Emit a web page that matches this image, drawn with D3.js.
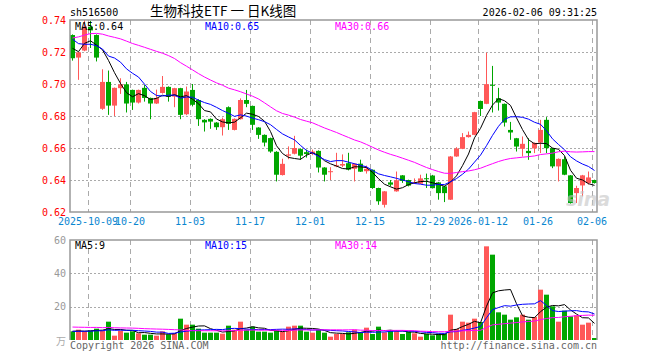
<!DOCTYPE html>
<html>
<head>
<meta charset="utf-8">
<script src="https://cdn.jsdelivr.net/npm/d3@7"></script>
<style>
body { margin: 0; background: #fff; }
svg text { font-family: "DejaVu Sans Mono", monospace; font-size: 10px; }
</style>
</head>
<body>
<div id="chart"></div>
<script>
// trading days shown (categories)
const dates = [
  "2025-09-26","2025-09-29","2025-09-30","2025-10-09","2025-10-10","2025-10-13","2025-10-14","2025-10-15","2025-10-16","2025-10-17",
  "2025-10-20","2025-10-21","2025-10-22","2025-10-23","2025-10-24","2025-10-27","2025-10-28","2025-10-29","2025-10-30","2025-10-31",
  "2025-11-03","2025-11-04","2025-11-05","2025-11-06","2025-11-07","2025-11-10","2025-11-11","2025-11-12","2025-11-13","2025-11-14",
  "2025-11-17","2025-11-18","2025-11-19","2025-11-20","2025-11-21","2025-11-24","2025-11-25","2025-11-26","2025-11-27","2025-11-28",
  "2025-12-01","2025-12-02","2025-12-03","2025-12-04","2025-12-05","2025-12-08","2025-12-09","2025-12-10","2025-12-11","2025-12-12",
  "2025-12-15","2025-12-16","2025-12-17","2025-12-18","2025-12-19","2025-12-22","2025-12-23","2025-12-24","2025-12-25","2025-12-26",
  "2025-12-29","2025-12-30","2025-12-31","2026-01-05","2026-01-06","2026-01-07","2026-01-08","2026-01-09",
  "2026-01-12","2026-01-13","2026-01-14","2026-01-15","2026-01-16","2026-01-19","2026-01-20","2026-01-21","2026-01-22","2026-01-23",
  "2026-01-26","2026-01-27","2026-01-28","2026-01-29","2026-01-30","2026-02-02","2026-02-03","2026-02-04","2026-02-05","2026-02-06"
]

const open = [0.7306,0.7165,0.7209,0.7358,0.7306,0.6845,0.7013,0.6865,0.6974,0.6998,
  0.6963,0.6884,0.6976,0.6913,0.6878,0.6944,0.6982,0.6921,0.6974,0.6811,
  0.6963,0.6900,0.6776,0.6782,0.6759,0.6730,0.6855,0.6713,0.6780,0.6900,
  0.6863,0.6728,0.6682,0.6662,0.6576,0.6431,0.6552,0.6564,0.6593,0.6574,
  0.6564,0.6582,0.6478,0.6450,0.6485,0.6490,0.6505,0.6470,0.6502,0.6455,
  0.6464,0.6350,0.6245,0.6385,0.6329,0.6429,0.6400,0.6380,0.6377,0.6411,
  0.6428,0.6385,0.6360,0.6277,0.6547,0.6595,0.6668,0.6682,0.6894,0.6876,
  0.6995,0.6911,0.6876,0.6713,0.6661,0.6595,0.6582,0.6597,0.6634,0.6776,
  0.6599,0.6485,0.6530,0.6429,0.6318,0.6366,0.6381,0.6400]
const high = [0.7310,0.7200,0.7400,0.7395,0.7310,0.7092,0.7084,0.6978,0.7036,0.7013,
  0.6965,0.6965,0.6993,0.6915,0.6965,0.7050,0.6985,0.6976,0.6976,0.6984,
  0.7000,0.6905,0.6780,0.6785,0.6762,0.6790,0.6860,0.6785,0.6910,0.6963,
  0.6865,0.6730,0.6685,0.6665,0.6580,0.6533,0.6610,0.6676,0.6598,0.6590,
  0.6590,0.6585,0.6480,0.6480,0.6570,0.6560,0.6570,0.6505,0.6527,0.6490,
  0.6466,0.6352,0.6331,0.6400,0.6453,0.6431,0.6402,0.6410,0.6433,0.6440,
  0.6432,0.6388,0.6365,0.6550,0.6605,0.6693,0.6703,0.6826,0.6896,0.7196,
  0.7113,0.6976,0.6878,0.6763,0.6663,0.6672,0.6661,0.6635,0.6776,0.6793,
  0.6601,0.6535,0.6547,0.6431,0.6364,0.6432,0.6453,0.6402]
const low = [0.7146,0.7026,0.7205,0.7225,0.7141,0.6838,0.6807,0.6800,0.6938,0.6822,
  0.6838,0.6878,0.6890,0.6780,0.6875,0.6940,0.6890,0.6855,0.6780,0.6805,
  0.6860,0.6738,0.6703,0.6720,0.6713,0.6678,0.6713,0.6710,0.6778,0.6855,
  0.6713,0.6657,0.6610,0.6570,0.6391,0.6428,0.6530,0.6560,0.6526,0.6540,
  0.6555,0.6447,0.6391,0.6400,0.6480,0.6480,0.6460,0.6391,0.6450,0.6440,
  0.6345,0.6245,0.6228,0.6360,0.6327,0.6382,0.6360,0.6375,0.6375,0.6350,
  0.6347,0.6277,0.6262,0.6275,0.6545,0.6593,0.6665,0.6680,0.6800,0.6874,
  0.6822,0.6834,0.6734,0.6651,0.6578,0.6547,0.6526,0.6568,0.6568,0.6568,
  0.6474,0.6391,0.6430,0.6252,0.6256,0.6298,0.6372,0.6378]
const close = [0.7161,0.7198,0.7358,0.7335,0.7165,0.7013,0.6865,0.6976,0.6998,0.6878,
  0.6884,0.6963,0.6913,0.6878,0.6913,0.6982,0.6921,0.6974,0.6807,0.6953,
  0.6870,0.6780,0.6760,0.6765,0.6730,0.6780,0.6751,0.6782,0.6900,0.6876,
  0.6745,0.6682,0.6634,0.6578,0.6433,0.6501,0.6560,0.6600,0.6552,0.6562,
  0.6578,0.6478,0.6433,0.6455,0.6492,0.6500,0.6465,0.6502,0.6452,0.6470,
  0.6350,0.6267,0.6329,0.6371,0.6398,0.6394,0.6365,0.6385,0.6410,0.6405,
  0.6349,0.6318,0.6318,0.6547,0.6597,0.6668,0.6682,0.6824,0.6844,0.6999,
  0.6992,0.6884,0.6759,0.6697,0.6609,0.6626,0.6568,0.6632,0.6713,0.6599,
  0.6485,0.6532,0.6433,0.6256,0.6350,0.6429,0.6416,0.6381]
// volume, 万手
const volume = [5.2,6.2,5.2,5.6,6.8,5.6,11,2.6,5.6,4.4,
  5.2,4,3.2,3.2,2.6,5.2,3.4,4,12.8,9.2,
  9.2,6.8,4.4,4.4,4.4,3.8,8.6,6.2,11,6.2,
  8,5,5,4.4,5.6,5,8,8.6,8.6,5,
  4.4,6.2,4.4,2,3.6,3.6,4.6,6.2,4.6,7.4,
  3.6,8,4.6,5.8,5.2,3.6,5,4,2,3.6,
  2.8,3.8,3.8,15.2,6.6,11,10.4,12.8,10.8,56.2,
  51.2,16.6,15.2,12.2,13.6,15.2,12.2,13.8,30.2,27.2,
  20.2,11,17.6,14.2,14.8,9.2,10.4,1.2]

// sessions before the window (only feed the moving averages)
const priorClose = [0.700,0.702,0.706,0.712,0.716,0.720,0.724,0.728,0.730,0.733,0.731,0.728,0.726,0.729,0.733,0.737,
  0.752,0.758,0.762,0.756,0.748,0.740,0.733,0.726,0.722,0.7303,0.7098,0.7255,0.7298]
const priorVolume = [9,7,8,6,10,7,8,9,6,7,8,9,7,6,8,7,9,18,16,16,6,5,5,4.5,5.5,5,6,4.5,5.3]

const priceTicks = [0.62, 0.64, 0.66, 0.68, 0.70, 0.72, 0.74]
const volTicks = [20, 40, 60]
const tickDates = ["2025-10-09","2025-10-20","2025-11-03","2025-11-17","2025-12-01","2025-12-15","2025-12-29","2026-01-12","2026-01-26","2026-02-06"]
const tickLabels = ["2025-10-09","10-20","11-03","11-17","12-01","12-15","12-29","2026-01-12","01-26","02-06"]

const UP = "#ff5858", DOWN = "#00a600"
const maColors = ["#000000", "#0000ff", "#ff00ff"]
const maDays = [5, 10, 30]

function movingAvg(prior, series, n) {
  let all = prior.concat(series)
  return series.map((_, i) => d3.mean(all.slice(prior.length + i - n + 1, prior.length + i + 1)))
}

var svg = d3.select("#chart").append("svg").attr("width", 660).attr("height", 360)

var x = d3.scaleBand().domain(dates).range([70, 598])
  .paddingInner(1 / 6).paddingOuter(1 / 12).align(0)
var y = d3.scaleLinear().domain([0.62, 0.74]).range([212, 20])
var v = d3.scaleLinear().domain([0, 60]).range([340, 240])
var bw = x.bandwidth()

// title line
svg.append("text").attr("x", 70).attr("y", 16).text("sh516500")
svg.append("text").attr("x", 150).attr("y", 16)
  .style("font-family", "'Noto Sans CJK SC', sans-serif").style("font-size", "13.5px")
  .text("生物科技ETF 一 日K线图")
svg.append("text").attr("x", 597).attr("y", 16).attr("text-anchor", "end").text("2026-02-06 09:31:25")

// grid
var grid = svg.append("g").attr("stroke", "#aaa").attr("fill", "none")
priceTicks.slice(1, -1).forEach(t => {
  grid.append("line").attr("x1", 70).attr("x2", 597)
    .attr("y1", Math.round(y(t)) + 0.5).attr("y2", Math.round(y(t)) + 0.5)
    .attr("stroke-dasharray", "2,2")
})
volTicks.slice(0, -1).forEach(t => {
  grid.append("line").attr("x1", 70).attr("x2", 597)
    .attr("y1", Math.round(v(t)) + 0.5).attr("y2", Math.round(v(t)) + 0.5)
    .attr("stroke-dasharray", "2,2")
})
tickDates.forEach(d => {
  let gx = x(d) + 0.5
  grid.append("line").attr("x1", gx).attr("x2", gx).attr("y1", 20).attr("y2", 212)
    .attr("stroke-dasharray", "5,4")
  grid.append("line").attr("x1", gx).attr("x2", gx).attr("y1", 240).attr("y2", 340)
    .attr("stroke-dasharray", "5,4")
})

// axes
var yAxis = svg.append("g").attr("transform", "translate(70,0)")
  .call(d3.axisLeft(y).tickValues(priceTicks).tickFormat(d3.format(".2f")).tickSize(0).tickPadding(4))
yAxis.select(".domain").remove()
yAxis.selectAll("text").attr("fill", "#f00").style("font-size", "10px").style("font-family", "'DejaVu Sans Mono', monospace")

var vAxis = svg.append("g").attr("transform", "translate(70,0)")
  .call(d3.axisLeft(v).tickValues(volTicks).tickSize(0).tickPadding(4))
vAxis.select(".domain").remove()
vAxis.selectAll("text").attr("fill", "#999").style("font-size", "10px").style("font-family", "'DejaVu Sans Mono', monospace")
svg.append("text").attr("x", 66).attr("y", 345).attr("text-anchor", "end").attr("fill", "#aaa")
  .style("font-family", "'Noto Sans CJK SC', sans-serif").text("万")

var xAxis = svg.append("g").attr("transform", "translate(" + (-bw / 2) + ",212)")
  .call(d3.axisBottom(x).tickValues(tickDates).tickFormat((d, i) => tickLabels[i]).tickSize(0).tickPadding(6))
xAxis.select(".domain").remove()
xAxis.selectAll("text").attr("fill", "#0a86d0").style("font-size", "10px").style("font-family", "'DejaVu Sans Mono', monospace")

// candles
var candles = svg.append("g")
dates.forEach((d, i) => {
  let col = close[i] >= open[i] ? UP : DOWN
  let cx = x(d) + Math.floor(bw / 2) + 0.5
  candles.append("line").attr("x1", cx).attr("x2", cx)
    .attr("y1", y(high[i])).attr("y2", y(low[i])).attr("stroke", col)
  let top = y(Math.max(open[i], close[i])), bot = y(Math.min(open[i], close[i]))
  candles.append("rect").attr("x", x(d)).attr("width", bw)
    .attr("y", top).attr("height", Math.max(1, bot - top)).attr("fill", col)
})

// volume bars
svg.append("g").selectAll("rect").data(volume).enter().append("rect")
  .attr("x", (d, i) => x(dates[i])).attr("width", bw)
  .attr("y", d => v(d)).attr("height", d => v(0) - v(d))
  .attr("fill", (d, i) => close[i] >= open[i] ? UP : DOWN)

// moving averages
svg.append("clipPath").attr("id", "clipP").append("rect").attr("x", 70).attr("y", 20).attr("width", 528).attr("height", 192)
var lineP = d3.line().x((d, i) => x(dates[i]) + bw / 2).y(d => y(d))
var lineV = d3.line().x((d, i) => x(dates[i]) + bw / 2).y(d => v(d))
var priceMA = maDays.map(n => movingAvg(priorClose, close, n))
var volMA = maDays.map(n => movingAvg(priorVolume, volume, n))
priceMA.forEach((ma, k) => {
  svg.append("path").attr("d", lineP(ma)).attr("fill", "none")
    .attr("stroke", maColors[k]).attr("stroke-width", 1).attr("clip-path", "url(#clipP)")
})
volMA.forEach((ma, k) => {
  svg.append("path").attr("d", lineV(ma)).attr("fill", "none")
    .attr("stroke", maColors[k]).attr("stroke-width", 1)
})

// frames
svg.append("rect").attr("x", 70).attr("y", 20).attr("width", 527).attr("height", 192)
  .attr("fill", "none").attr("stroke", "#999").attr("stroke-width", 1.5)
svg.append("path").attr("d", "M70,340V240H597V340")
  .attr("fill", "none").attr("stroke", "#999").attr("stroke-width", 1.5)

// watermark
svg.append("text").attr("x", 566).attr("y", 206).attr("fill", "#c4c4c4").attr("opacity", 0.6)
  .style("font-family", "'DejaVu Sans', sans-serif").style("font-size", "19px")
  .style("font-style", "italic").style("font-weight", "bold").text("sina")

// legends
let last = dates.length - 1
let legendX = [75, 205, 335]
maDays.forEach((n, k) => {
  svg.append("text").attr("x", legendX[k]).attr("y", 30).attr("fill", maColors[k])
    .text("MA" + n + ":" + priceMA[k][last].toFixed(2))
  svg.append("text").attr("x", legendX[k]).attr("y", 249).attr("fill", maColors[k])
    .text("MA" + n + ":" + Math.floor(volMA[k][last]))
})

// footer
svg.append("text").attr("x", 70).attr("y", 349).attr("fill", "#666").text("Copyright 2026 SINA.COM")
svg.append("text").attr("x", 597).attr("y", 349).attr("text-anchor", "end").attr("fill", "#666").text("http://finance.sina.com.cn")
</script>
</body>
</html>
